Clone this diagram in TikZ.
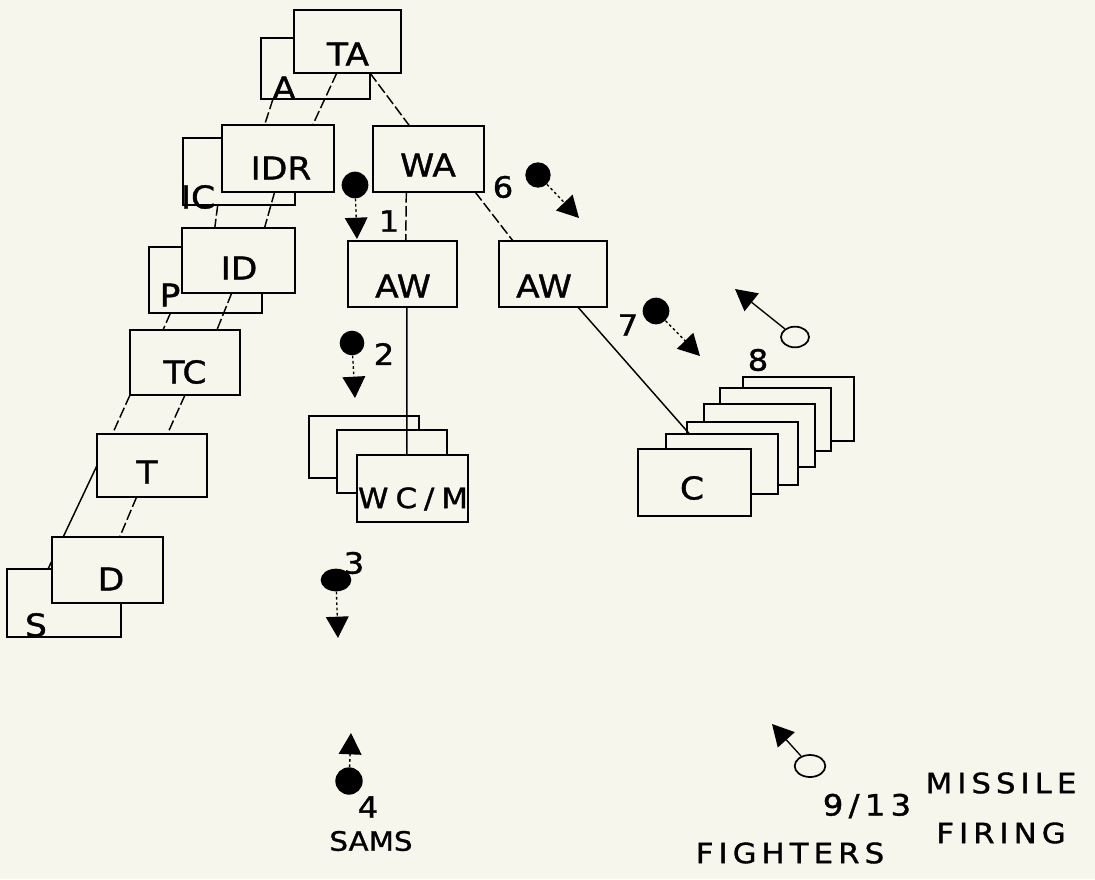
\documentclass[tikz,border=0pt]{standalone}
\usepackage{fontspec}
\setmainfont{DejaVu Sans}
\newfontfamily\pf[FakeStretch=1.1,FakeBold=1.2]{DejaVu Sans}
\newfontfamily\pfwc[FakeStretch=1.1,FakeBold=1.2,LetterSpace=25]{DejaVu Sans}
\newfontfamily\pfcap[FakeStretch=1.1,FakeBold=1.2,LetterSpace=18]{DejaVu Sans}
\usetikzlibrary{arrows.meta,calc,shapes.geometric}
\definecolor{paper}{RGB}{246,246,236}
\pgfdeclarelayer{bg}
\pgfdeclarelayer{mid}
\pgfsetlayers{bg,mid,main}
\newcommand\mybox[5]{\node[box, minimum width={(#4-#2)*0.75pt}, minimum height={(#5-#3)*0.75pt}] (#1) at ({(#2+#4)/2},{(#3+#5)/2}) {};}
\begin{document}
\begin{tikzpicture}[x=0.75pt,y=-0.75pt,
  box/.style={draw, line width=1.9pt, fill=paper, rectangle, inner sep=0pt, outer sep=0pt},
  lbl/.style={inner sep=0pt, font=\pf\fontsize{23.5}{26}\selectfont},
  num/.style={inner sep=0pt, font=\pf\fontsize{22}{24}\selectfont},
  captxt/.style={inner sep=0pt, font=\pfcap\fontsize{21}{24}\selectfont},
  conn/.style={line width=1.1pt},
  dconn/.style={line width=1.1pt, dash pattern=on 8pt off 2.5pt},
  dot/.style={circle, fill=black, inner sep=0pt},
  odot/.style={ellipse, draw, line width=1.3pt, inner sep=0pt, fill=paper},
  mk/.style={line width=1pt, dash pattern=on 2pt off 2pt, -{Triangle[length=16pt,width=17pt]}},
]
\begin{pgfonlayer}{bg}
\fill[paper] (0,0) rectangle (1095,879);
% back boxes
\mybox{A}{261}{38}{370}{99}
\mybox{IC}{183}{138}{295}{205}
\mybox{P}{149}{247}{262}{313}
\mybox{S}{7}{569}{121}{637}
% WC/M stack
\mybox{WCa}{309}{416}{419}{478}
\mybox{WCb}{337}{430}{447}{493}
\mybox{WCc}{357}{455}{468}{522}
% C stack
\mybox{Cf}{743}{377}{854}{441}
\mybox{Ce}{720}{388}{831}{451}
\mybox{Cd}{704}{404}{815}{467}
\mybox{Cc}{687}{422}{798}{485}
\mybox{Cb}{666}{434}{778}{494}
\mybox{Ca}{638}{449}{751}{516}
\end{pgfonlayer}
\useasboundingbox (0,0) rectangle (1095,879);

% front boxes
\mybox{TA}{294}{10}{401}{73}
\mybox{IDR}{222}{125}{334}{192}
\mybox{WA}{373}{126}{484}{192}
\mybox{AWl}{348}{241}{457}{307}
\mybox{AWr}{499}{241}{607}{307}
\mybox{ID}{182}{228}{295}{293}
\mybox{TC}{130}{330}{240}{395}
\mybox{T}{97}{434}{207}{497}
\mybox{D}{52}{537}{163}{603}

% connectors
\begin{pgfonlayer}{mid}
\draw[dconn] ($(A.south west)!0.11!(A.south east)$) -- ($(IDR.north west)!0.38!(IDR.north east)$);
\draw[dconn] ($(TA.south west)!0.40!(TA.south east)$) -- ($(IDR.north west)!0.81!(IDR.north east)$);
\draw[dconn] ($(TA.south west)!0.71!(TA.south east)$) -- ($(WA.north west)!0.33!(WA.north east)$);
\draw[dconn] ($(IC.south west)!0.31!(IC.south east)$) -- ($(ID.north west)!0.29!(ID.north east)$);
\draw[dconn] ($(IDR.south west)!0.47!(IDR.south east)$) -- ($(ID.north west)!0.73!(ID.north east)$);
\draw[dconn] ($(P.south west)!0.19!(P.south east)$) -- ($(TC.north west)!0.30!(TC.north east)$);
\draw[dconn] ($(ID.south west)!0.44!(ID.south east)$) -- ($(TC.north west)!0.79!(TC.north east)$);
\draw[dconn] (TC.south west) -- ($(T.north west)!0.14!(T.north east)$);
\draw[dconn] ($(TC.south west)!0.5!(TC.south east)$) -- ($(T.north west)!0.64!(T.north east)$);
\draw[conn] (T.west) -- ($(S.north west)!0.36!(S.north east)$);
\draw[dconn] ($(T.south west)!0.36!(T.south east)$) -- ($(D.north west)!0.61!(D.north east)$);
\draw[dconn] ($(WA.south west)!0.30!(WA.south east)$) -- ($(AWl.north west)!0.53!(AWl.north east)$);
\draw[dconn] ($(WA.south west)!0.92!(WA.south east)$) -- ($(AWr.north west)!0.13!(AWr.north east)$);
\draw[conn] ($(AWl.south west)!0.54!(AWl.south east)$) -- ($(WCc.north west)!0.45!(WCc.north east)$);
\draw[conn] ($(AWr.south west)!0.73!(AWr.south east)$) -- ($(Cb.north west)!0.21!(Cb.north east)$);
\end{pgfonlayer}

% box labels
\node[lbl] (lTA) at (348,54) {TA};
\node[lbl] (lA) at (284,88) {A};
\node[lbl] (lIDR) at (281,168) {IDR};
\node[lbl] (lIC) at (198,197) {IC};
\node[lbl] (lWA) at (428,165) {WA};
\node[lbl] (lAWl) at (403,286) {AW};
\node[lbl] (lAWr) at (544,286) {AW};
\node[lbl] (lID) at (239,268) {ID};
\node[lbl] (lP) at (170,295) {P};
\node[lbl] (lTC) at (185,372) {TC};
\node[lbl] (lT) at (147,472) {T};
\node[lbl] (lD) at (111,579) {D};
\node[lbl] (lS) at (36,625) {S};
\node[inner sep=0pt, font=\pfwc\fontsize{21}{24}\selectfont] (lWC) at (413,499) {WC/M};
\node[lbl] (lC) at (692,488) {C};

% markers
\node[dot, minimum size=20pt] (m1) at (355,185) {};
\coordinate (t1) at (357,239);
\draw[mk] (m1) -- (t1);
\node[dot, minimum size=18.5pt] (m2) at (352,343) {};
\coordinate (t2) at (355,398);
\draw[mk] (m2) -- (t2);
\node[dot, ellipse, minimum width=23pt, minimum height=17pt] (m3) at (336,580) {};
\coordinate (t3) at (338,638);
\draw[mk] (m3) -- (t3);
\node[dot, minimum size=20.5pt] (m4) at (349,781) {};
\coordinate (t4) at (351,733);
\draw[mk] (m4) -- (t4);
\node[dot, minimum size=19pt] (m6) at (538,175) {};
\coordinate (t6) at (579,218);
\draw[mk] (m6) -- (t6);
\node[dot, minimum size=20pt] (m7) at (656,311) {};
\coordinate (t7) at (700,356);
\draw[mk] (m7) -- (t7);
\node[odot, minimum width=21pt, minimum height=15.5pt] (m8) at (795,337) {};
\coordinate (t8) at (735,289);
\draw[mk, solid] (m8) -- (t8);
\node[odot, minimum width=23pt, minimum height=16.5pt] (m9) at (810,766) {};
\coordinate (t9) at (772,724);
\draw[mk, solid] (m9) -- (t9);

% numbers and captions
\node[num] (n1) at (389,221) {1};
\node[num] (n2) at (384,354) {2};
\node[num] (n3) at (354,563) {3};
\node[num] (n4) at (368,807) {4};
\node[num] (n6) at (503,187) {6};
\node[num] (n7) at (628,325) {7};
\node[num] (n8) at (758,360) {8};
\node[captxt, font=\pfcap\fontsize{22}{24}\selectfont] (n9) at (867,806) {9/13};
\node[captxt] (cMis) at (1001,783) {MISSILE};
\node[captxt] (cFir) at (1001,833) {FIRING};
\node[captxt] (cFig) at (790,853) {FIGHTERS};
\node[inner sep=0pt, font=\pf\fontsize{20}{22}\selectfont] (cSam) at (371,841) {SAMS};
\end{tikzpicture}
\end{document}
